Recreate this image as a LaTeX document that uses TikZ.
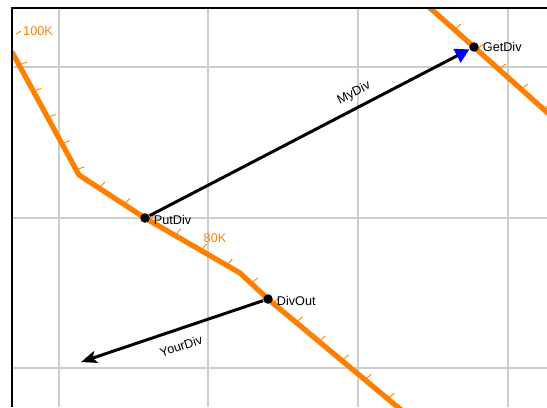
\documentclass[tikz,border=0pt]{standalone}
\usepackage{fontspec}
\setmainfont{Liberation Sans}
\usetikzlibrary{arrows.meta,decorations.markings}
\definecolor{flowor}{HTML}{FF8000}
\definecolor{gridgr}{HTML}{CCCCCC}
\definecolor{tipblue}{HTML}{0000FF}
\tikzset{
  gridln/.style={draw=gridgr, line width=0.8pt},
  frame/.style={draw=black, line width=1.4pt},
  tickmk/.style={draw=flowor, line width=0.5pt},
  flow/.style={draw=flowor, line width=3pt, line join=round,
               postaction={decorate, decoration={markings,
                 mark=between positions 8.5pt and 1 step 17pt with {\draw[tickmk] (0,1pt) -- (0.6pt,4.8pt);}}}},
  port/.style={circle, fill=black, inner sep=0pt, minimum size=5.4pt},
  lbl/.style={font=\fontsize{7.2}{8}\selectfont, inner sep=1pt},
  msg/.style={draw=black, line width=1.7pt},
}

\begin{document}
\begin{tikzpicture}[x=0.02cm, y=-0.02cm]
  \useasboundingbox (0,0) rectangle (547,407);
  \foreach \gx in {59,208,358,508} \draw[gridln] (\gx,8) -- (\gx,407);
  \foreach \gy in {67,218,368} \draw[gridln] (12,\gy) -- (547,\gy);

  \coordinate (pget) at (474,47);
  \coordinate (pput) at (145,218);
  \coordinate (pout) at (268,299);

  \begin{scope}
    \clip (12,8) rectangle (547,407);
    \draw[flow] (12,52) -- (79,175) -- (pput) -- (240,273) -- (pout) -- (412,419);
    \draw[flow] (421,0) -- (pget) -- (560,124);
  \end{scope}

  \node[lbl, text=flowor] (k100) at (38,31) {100K};
  \draw[tickmk] (k100.west) -- ++(-5,3);
  \node[lbl, text=flowor] (k80) at (215,238) {80K};

  \node[port, label={[lbl, label distance=1pt]right:GetDiv}] (getdiv) at (pget) {};
  \node[port, label={[lbl, label distance=1pt, yshift=-1pt]right:PutDiv}] (putdiv) at (pput) {};
  \node[port, label={[lbl, label distance=1pt, yshift=-1pt]right:DivOut}] (divout) at (pout) {};
  \coordinate (yourend) at (81,362);

  \draw[msg, -{Triangle[length=8pt, width=8.5pt, color=tipblue]}] (putdiv) -- (getdiv)
    node[lbl, sloped, above=3pt, pos=0.66] (mydiv) {MyDiv};
  \draw[msg, -{Stealth[length=9pt, width=7pt, inset=2pt]}] (divout) -- (yourend)
    node[lbl, sloped, below=5pt, pos=0.48] (yourdiv) {YourDiv};

  \draw[frame] (12,407) -- (12,8) -- (547,8);
\end{tikzpicture}
\end{document}
